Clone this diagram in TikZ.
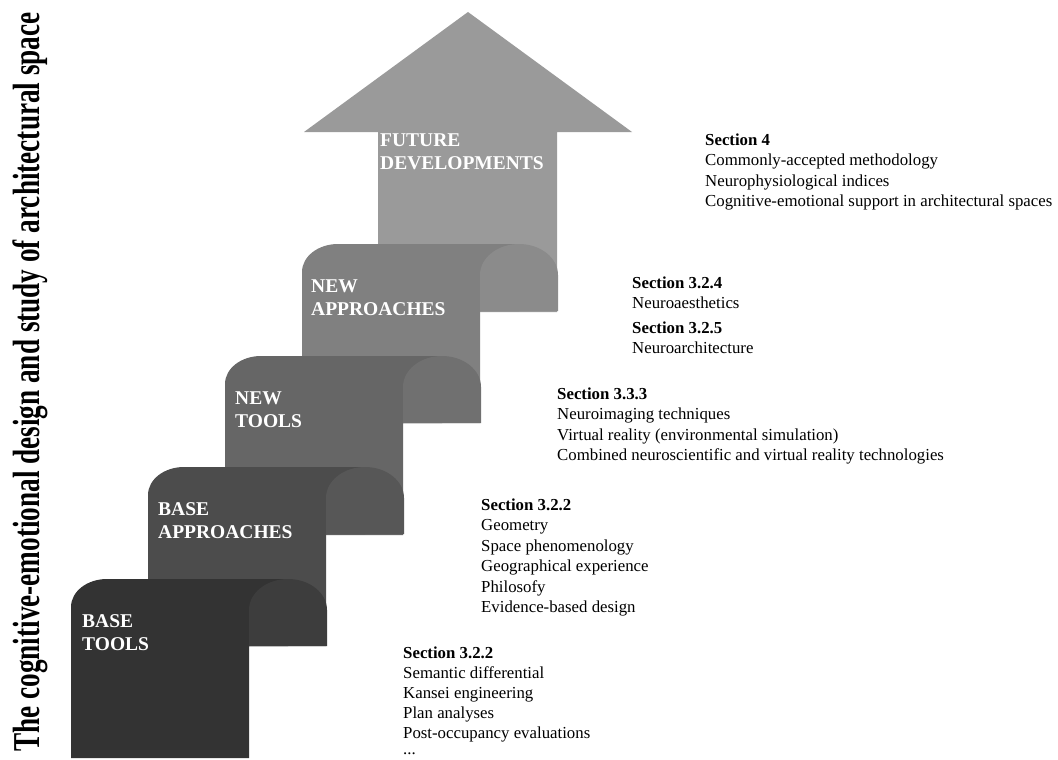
\documentclass[tikz,border=0pt]{standalone}
\usepackage{fontspec}
\usepackage{graphicx}
\setmainfont{Liberation Serif}
\definecolor{bodyA}{HTML}{333333}
\definecolor{archA}{HTML}{3D3D3D}
\definecolor{bodyB}{HTML}{4C4C4C}
\definecolor{archB}{HTML}{575757}
\definecolor{bodyC}{HTML}{666666}
\definecolor{archC}{HTML}{707070}
\definecolor{bodyD}{HTML}{808080}
\definecolor{archD}{HTML}{8B8B8B}
\definecolor{arrowE}{HTML}{9A9A9A}
% #1 left, #2 top, #3 bottom, #4 body colour, #5 arch colour
\newcommand\myblock[5]{%
  \fill[#4] (#1,#3) -- (#1,#2+28) .. controls (#1,#2+12.5) and (#1+16.1,#2) .. (#1+36,#2)
    -- (#1+217,#2) -- (#1+217,#2+67) -- (#1+178,#2+67) -- (#1+178,#3) -- cycle;
  \fill[#5] (#1+178,#2+67) -- (#1+178,#2+31)
    .. controls (#1+178,#2+13.9) and (#1+195.5,#2) .. (#1+217,#2)
    .. controls (#1+238.5,#2) and (#1+256,#2+13.9) .. (#1+256,#2+31)
    -- (#1+256,#2+67) -- cycle;
}
\begin{document}
\begin{tikzpicture}[x=1pt,y=-1pt,
  lbl/.style={anchor=base west, inner sep=0pt, text=white,
    font=\bfseries\fontsize{19.5}{23.5}\selectfont},
  note/.style={anchor=base west, inner sep=0pt,
    font=\fontsize{16.8}{20.5}\selectfont},
]
\useasboundingbox[fill=white] (0,0) rectangle (1058,760);

% arrow
\fill[arrowE] (378,312) -- (378,132) -- (304,132) -- (468,12) -- (632,132)
  -- (557,132) -- (557,312) -- cycle;

% steps (back to front)
\myblock{302}{244}{423}{bodyD}{archD}
\myblock{225}{356}{535}{bodyC}{archC}
\myblock{148}{467}{646}{bodyB}{archB}
\myblock{71}{579}{758}{bodyA}{archA}

% step labels
\node[lbl] (fut) at (380,146) {\begin{tabular}[t]{@{}l@{}}FUTURE\\DEVELOPMENTS\end{tabular}};
\node[lbl] (nap) at (311,292) {\begin{tabular}[t]{@{}l@{}}NEW\\APPROACHES\end{tabular}};
\node[lbl] (ntl) at (235,404) {\begin{tabular}[t]{@{}l@{}}NEW\\TOOLS\end{tabular}};
\node[lbl] (bap) at (158,515) {\begin{tabular}[t]{@{}l@{}}BASE\\APPROACHES\end{tabular}};
\node[lbl] (btl) at (82,627) {\begin{tabular}[t]{@{}l@{}}BASE\\TOOLS\end{tabular}};

% notes
\node[note] (n4) at (705,145) {\begin{tabular}[t]{@{}l@{}}\textbf{Section 4}\\
  Commonly-accepted methodology\\
  Neurophysiological indices\\
  Cognitive-emotional support in architectural spaces\end{tabular}};
\node[note] (n324) at (632,288) {\begin{tabular}[t]{@{}l@{}}\textbf{Section 3.2.4}\\
  Neuroaesthetics\\[4pt]
  \textbf{Section 3.2.5}\\
  Neuroarchitecture\end{tabular}};
\node[note] (n333) at (557,399) {\begin{tabular}[t]{@{}l@{}}\textbf{Section 3.3.3}\\
  Neuroimaging techniques\\
  Virtual reality (environmental simulation)\\
  Combined neuroscientific and virtual reality technologies\end{tabular}};
\node[note] (n322a) at (481,510) {\begin{tabular}[t]{@{}l@{}}\textbf{Section 3.2.2}\\
  Geometry\\
  Space phenomenology\\
  Geographical experience\\
  Philosofy\\
  Evidence-based design\end{tabular}};
\node[note, font=\fontsize{16.8}{20}\selectfont] (n322b) at (403,658) {\begin{tabular}[t]{@{}l@{}}\textbf{Section 3.2.2}\\
  Semantic differential\\
  Kansei engineering\\
  Plan analyses\\
  Post-occupancy evaluations\\[-4pt]
  ...\end{tabular}};

% vertical title
\node[rotate=90, anchor=base, inner sep=0pt,
  font=\bfseries\fontsize{38}{40}\selectfont] (title) at (39,382)
  {\scalebox{0.716}[1]{The cognitive-emotional design and study of architectural space}};
\end{tikzpicture}
\end{document}
